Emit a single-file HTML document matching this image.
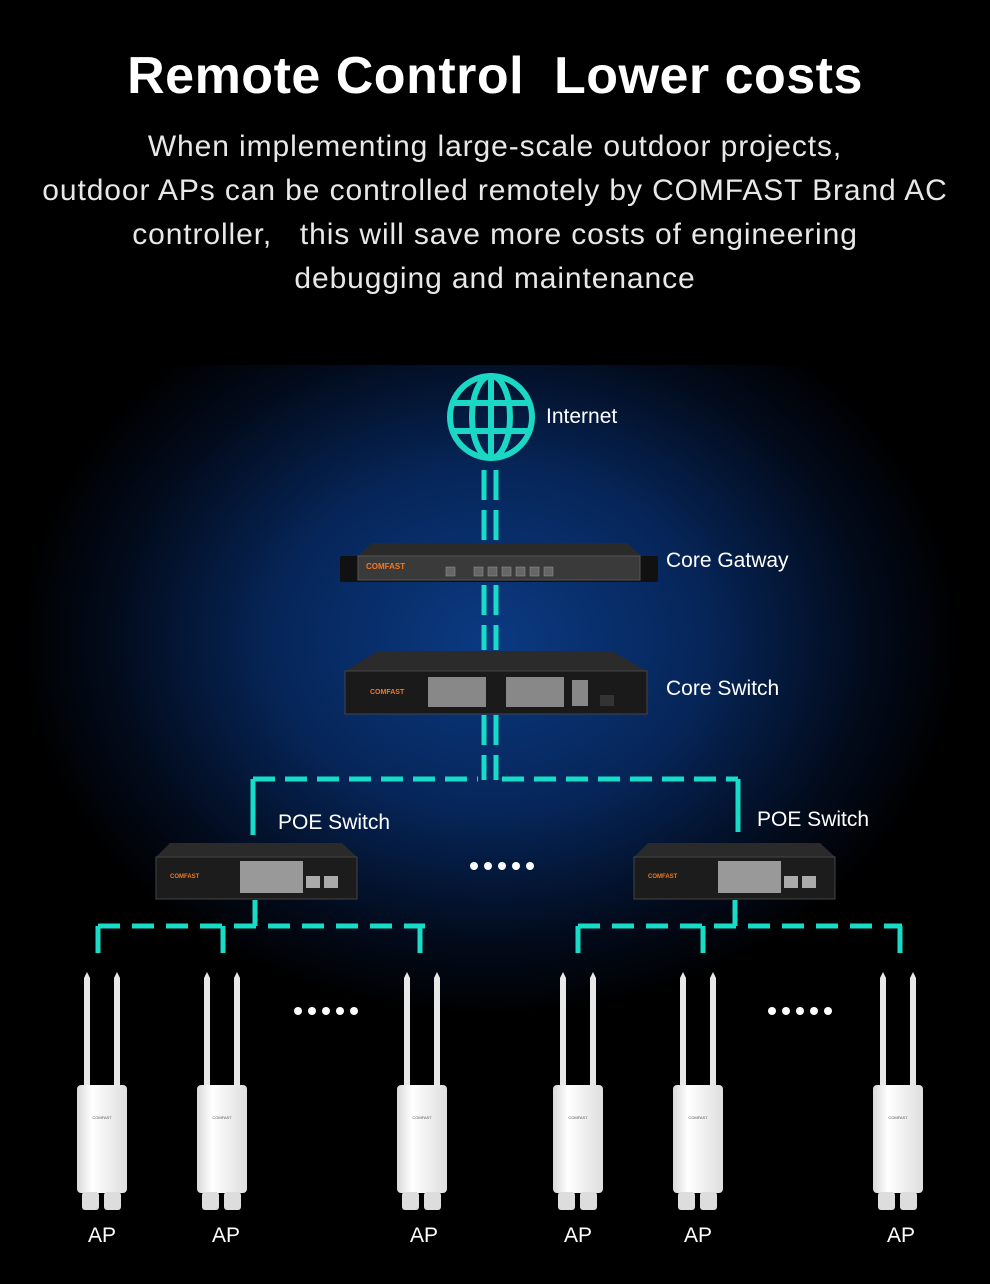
<!DOCTYPE html>
<html><head><meta charset="utf-8"><style>
html,body{margin:0;padding:0;background:#000;}
body{width:990px;height:1284px;position:relative;overflow:hidden;font-family:"Liberation Sans",sans-serif;color:#fff;}
.t{position:absolute;left:0;width:990px;text-align:center;}
</style></head><body>
<svg width="990" height="1284" style="position:absolute;left:0;top:0">
<defs>
<radialGradient id="bg" cx="490" cy="640" r="470" gradientUnits="userSpaceOnUse" gradientTransform="translate(490 640) scale(1 0.8) translate(-490 -640)">
<stop offset="0" stop-color="#0b3a82"/><stop offset="0.45" stop-color="#06265a"/><stop offset="0.8" stop-color="#020b1c"/><stop offset="1" stop-color="#000"/></radialGradient>
<linearGradient id="ap" x1="0" x2="1"><stop offset="0" stop-color="#d8d8d8"/><stop offset="0.3" stop-color="#fff"/><stop offset="1" stop-color="#dedede"/></linearGradient>
</defs>
<rect x="0" y="365" width="990" height="700" fill="url(#bg)"/>
<!-- globe -->
<g fill="none" stroke="#1ad8c4" stroke-width="6">
<circle cx="491" cy="417" r="41"/>
<ellipse cx="491" cy="417" rx="19" ry="41"/>
<line x1="491" y1="376" x2="491" y2="458"/>
<line x1="452" y1="403" x2="530" y2="403"/>
<line x1="452" y1="431" x2="530" y2="431"/>
</g>
<!-- dashed lines -->
<g stroke="#17dcc8" stroke-width="5" stroke-dasharray="30 10" fill="none">
<path d="M484 470V548M496 470V548M484 585V650M496 585V650M484 715V780M496 715V780"/>
<path d="M253 779H478M502 779H738" stroke-dasharray="22 10"/>
<path d="M253 779V835M738 779V832" stroke-dasharray="40 0"/>
<path d="M98 926H425M578 926H902" stroke-dasharray="22 12"/>
<path d="M98 926V953M223 926V953M420 926V953M578 926V953M703 926V953M900 926V953M255 900V926M735 900V926" stroke-dasharray="40 0"/>
</g>
<!-- gateway -->
<rect x="340" y="556" width="318" height="26" rx="2" fill="#111"/>
<path d="M358 556L372 543H627L641 556Z" fill="#2a2a2a"/>
<rect x="358" y="556" width="282" height="24" fill="#3a3a3a" stroke="#555"/>
<text x="366" y="569" font-size="8" font-weight="bold" fill="#f07a20">COMFAST</text>
<g fill="#666" stroke="#999" stroke-width="0.5">
<rect x="446" y="567" width="9" height="9"/><rect x="474" y="567" width="9" height="9"/><rect x="488" y="567" width="9" height="9"/><rect x="502" y="567" width="9" height="9"/><rect x="516" y="567" width="9" height="9"/><rect x="530" y="567" width="9" height="9"/><rect x="544" y="567" width="9" height="9"/></g>
<!-- core switch -->
<path d="M345 671L378 651H612L646 671Z" fill="#2b2b2b"/>
<rect x="345" y="671" width="302" height="43" fill="#1a1a1a" stroke="#444"/>
<text x="370" y="694" font-size="7" font-weight="bold" fill="#f07a20">COMFAST</text>
<rect x="428" y="677" width="58" height="30" fill="#888"/>
<rect x="506" y="677" width="58" height="30" fill="#888"/>
<rect x="572" y="680" width="16" height="26" fill="#888"/>
<rect x="600" y="695" width="14" height="11" fill="#333"/>
<!-- POE switches -->
<g id="poe">
<path d="M156 857L170 843H342L357 857Z" fill="#2a2a2a"/>
<rect x="156" y="857" width="201" height="42" fill="#1c1c1c" stroke="#444"/>
<text x="170" y="878" font-size="6" font-weight="bold" fill="#f07a20">COMFAST</text>
<rect x="240" y="861" width="63" height="32" fill="#999"/>
<rect x="306" y="876" width="14" height="12" fill="#aaa"/><rect x="324" y="876" width="14" height="12" fill="#aaa"/>
</g>
<use href="#poe" x="478"/>
<!-- dots -->
<g fill="#fff"><circle cx="474" cy="866" r="4"/><circle cx="488" cy="866" r="4"/><circle cx="502" cy="866" r="4"/><circle cx="516" cy="866" r="4"/><circle cx="530" cy="866" r="4"/>
<circle cx="298" cy="1011" r="4"/><circle cx="312" cy="1011" r="4"/><circle cx="326" cy="1011" r="4"/><circle cx="340" cy="1011" r="4"/><circle cx="354" cy="1011" r="4"/>
<circle cx="772" cy="1011" r="4"/><circle cx="786" cy="1011" r="4"/><circle cx="800" cy="1011" r="4"/><circle cx="814" cy="1011" r="4"/><circle cx="828" cy="1011" r="4"/></g>
<!-- AP -->
<g id="ap1">
<path d="M87 972L90 978V1085H84V978Z" fill="#e8e8e8"/>
<path d="M117 972L120 978V1085H114V978Z" fill="#e8e8e8"/>
<rect x="77" y="1085" width="50" height="108" rx="4" fill="url(#ap)"/>
<text x="102" y="1119" font-size="4" text-anchor="middle" fill="#555">COMFAST</text>
<rect x="82" y="1192" width="17" height="18" rx="3" fill="#ddd"/><rect x="104" y="1192" width="17" height="18" rx="3" fill="#ddd"/>
</g>
<use href="#ap1" x="120"/><use href="#ap1" x="320"/><use href="#ap1" x="476"/><use href="#ap1" x="596"/><use href="#ap1" x="796"/>
<g font-family="Liberation Sans,sans-serif" font-size="21" fill="#fff">
<text x="546" y="423">Internet</text>
<text x="666" y="567">Core Gatway</text>
<text x="666" y="695">Core Switch</text>
<text x="278" y="829">POE Switch</text>
<text x="757" y="826">POE Switch</text>
<g text-anchor="middle"><text x="102" y="1242">AP</text><text x="226" y="1242">AP</text><text x="424" y="1242">AP</text><text x="578" y="1242">AP</text><text x="698" y="1242">AP</text><text x="901" y="1242">AP</text></g>
</g>
</svg>
<div class="t" style="top:46px;font-size:52px;font-weight:bold;letter-spacing:0.5px;">Remote Control&nbsp; Lower costs</div>
<div class="t" style="top:125px;font-size:30px;line-height:44px;color:#e8e8e8;letter-spacing:0.9px;">When implementing large-scale outdoor projects,<br>outdoor APs can be controlled remotely by COMFAST Brand AC<br>controller,&nbsp;&nbsp; this will save more costs of engineering<br>debugging and maintenance</div>
</body></html>
